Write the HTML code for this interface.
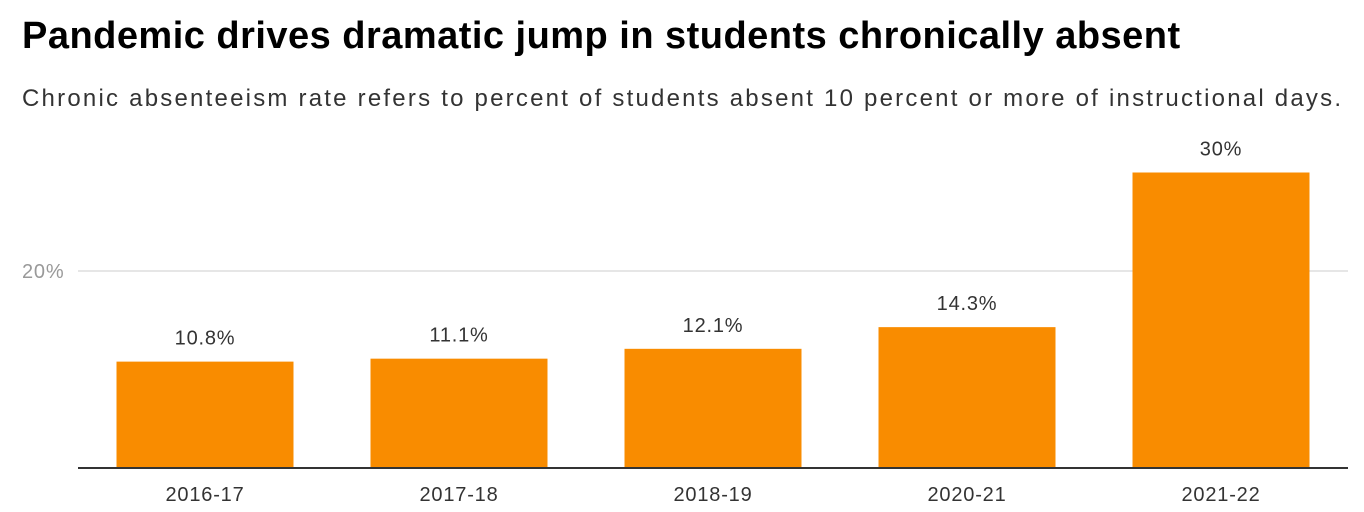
<!DOCTYPE html>
<html><head><meta charset="utf-8"><style>
body{margin:0;background:#fff;width:1364px;height:512px;overflow:hidden;font-family:"Liberation Sans",Arial,sans-serif}
#title{position:absolute;left:22px;top:15px;font-size:38px;font-weight:bold;color:#000;letter-spacing:0.48px;white-space:nowrap}
#sub{position:absolute;left:22px;top:85px;font-size:24px;color:#333;letter-spacing:2.22px;white-space:nowrap}
svg{position:absolute;left:0;top:0}
</style></head><body>
<div id="title">Pandemic drives dramatic jump in students chronically absent</div>
<div id="sub">Chronic absenteeism rate refers to percent of students absent 10 percent or more of instructional days.</div>
<svg id="chart" width="1364" height="512"></svg>
<script>
const categories=["2016-17","2017-18","2018-19","2020-21","2021-22"];
const values=[10.8,11.1,12.1,14.3,30];
const valueLabels=["10.8%","11.1%","12.1%","14.3%","30%"];
const yTicks=[20];
const yTickLabels=["20%"];
const NS="http://www.w3.org/2000/svg";
const svg=document.getElementById('chart');
const x0=78,x1=1348,yBase=468,pxPer=9.85;
const band=(x1-x0)/categories.length,barW=177;
const y=v=>yBase-v*pxPer;
function mk(t,a){const e=document.createElementNS(NS,t);for(const k in a)e.setAttribute(k,a[k]);svg.appendChild(e);return e;}
yTicks.forEach((t,i)=>{
 const g=mk('line',{x1:x0,x2:x1,y1:y(t),y2:y(t),stroke:'#ddd','stroke-width':1.5});
 
 
 const l=mk('text',{x:22,y:y(t)+7,'font-size':20,fill:'#999','letter-spacing':0.8,'font-family':'Liberation Sans, sans-serif'});
 l.textContent=yTickLabels[i];
 
 
});
categories.forEach((c,i)=>{
 const cx=x0+band*(i+0.5);
 const r=mk('rect',{x:cx-barW/2,y:y(values[i]),width:barW,height:yBase-y(values[i]),fill:'#f98c00'});
 
 
 const v=mk('text',{x:cx,y:y(values[i])-17,'text-anchor':'middle','font-size':20,'letter-spacing':0.8,fill:'#333','font-family':'Liberation Sans, sans-serif'});
 v.textContent=valueLabels[i];
 
 
 const t=mk('text',{x:cx,y:501,'text-anchor':'middle','font-size':20,'letter-spacing':0.8,fill:'#333','font-family':'Liberation Sans, sans-serif'});
 t.textContent=c;
 
 
});
const ax=mk('line',{x1:x0,x2:x1,y1:yBase,y2:yBase,stroke:'#333','stroke-width':2});


</script>
</body></html>
